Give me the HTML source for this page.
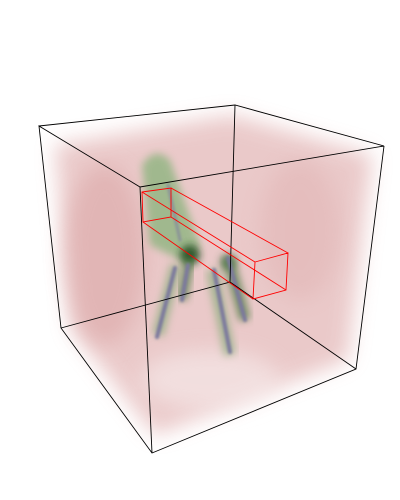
<!DOCTYPE html>
<html><head><meta charset="utf-8"><style>
html,body{margin:0;padding:0;background:#fff;width:400px;height:500px;overflow:hidden}
</style></head><body>
<svg width="400" height="500" viewBox="0 0 400 500">
<defs>
<filter id="b8" x="-50%" y="-50%" width="200%" height="200%"><feGaussianBlur stdDeviation="10"/></filter>
<filter id="b4" x="-50%" y="-50%" width="200%" height="200%"><feGaussianBlur stdDeviation="4"/></filter>
<filter id="b2" x="-50%" y="-50%" width="200%" height="200%"><feGaussianBlur stdDeviation="1.2"/></filter>
</defs>
<g>
<polygon points="55,145 232,115 372,155 348,360 155,435 72,330" fill="#e8c4c4" filter="url(#b8)" opacity="0.9"/>
<ellipse cx="105" cy="255" rx="40" ry="90" fill="#dca8a8" filter="url(#b8)" opacity="0.6"/>
<ellipse cx="300" cy="230" rx="40" ry="70" fill="#dfb0b0" filter="url(#b8)" opacity="0.45"/>
<ellipse cx="210" cy="380" rx="70" ry="30" fill="#f7ecec" filter="url(#b8)" opacity="0.6"/>
</g>
<g>
<path d="M142,165 Q155,145 170,160 L200,245 L190,265 L150,245 Z" fill="#7ab070" filter="url(#b4)" opacity="0.65"/>
<ellipse cx="190" cy="255" rx="10" ry="10" fill="#1f4a1f" filter="url(#b4)" opacity="0.85"/>
<ellipse cx="228" cy="262" rx="8" ry="8" fill="#3a6a3a" filter="url(#b4)" opacity="0.7"/>
<line x1="176" y1="265" x2="158" y2="335" stroke="#7aa870" stroke-width="12" filter="url(#b4)" opacity="0.6"/>
<line x1="190" y1="260" x2="182" y2="300" stroke="#4a7a40" stroke-width="10" filter="url(#b4)" opacity="0.7"/>
<line x1="212" y1="270" x2="230" y2="355" stroke="#7aa870" stroke-width="12" filter="url(#b4)" opacity="0.6"/>
<line x1="228" y1="258" x2="245" y2="320" stroke="#4a7a40" stroke-width="12" filter="url(#b4)" opacity="0.7"/>
</g>
<g stroke="#7c789e" stroke-linecap="round" filter="url(#b2)">
<line x1="175" y1="268" x2="157" y2="337" stroke-width="4"/>
<line x1="188" y1="265" x2="182" y2="300" stroke-width="4"/>
<line x1="214" y1="270" x2="230" y2="352" stroke-width="4"/>
<line x1="228" y1="258" x2="245" y2="320" stroke-width="4"/>
<line x1="168" y1="185" x2="180" y2="240" stroke-width="3" opacity="0.6"/>
</g>
<g stroke="#000" stroke-width="0.9" fill="none">
<polyline points="39,126 235,105 384,146 140,187 39,126 61,328 152,453 356,369 384,146"/>
<line x1="140" y1="187" x2="152" y2="453"/>
<polyline points="235,105 230,282 61,328"/>
<line x1="230" y1="282" x2="356" y2="369"/>
</g>
<g stroke="#ff0000" stroke-width="0.9" fill="none">
<polygon points="142,192 171,188 171,217 143,222"/>
<polygon points="255,262 288,253 286,290 253,299"/>
<line x1="142" y1="192" x2="255" y2="262"/>
<line x1="171" y1="188" x2="288" y2="253"/>
<line x1="171" y1="217" x2="286" y2="290"/>
<line x1="143" y1="222" x2="253" y2="299"/>
</g>
</svg>
</body></html>
